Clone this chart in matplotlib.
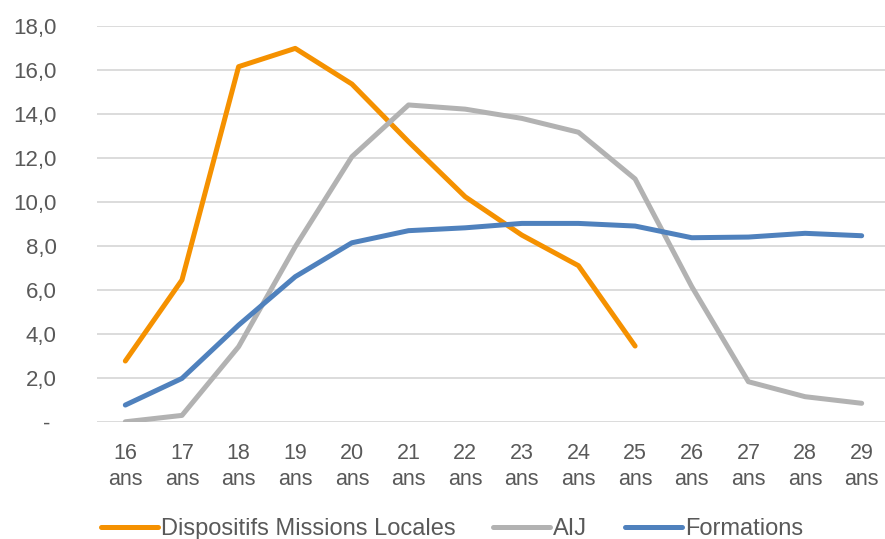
import matplotlib
matplotlib.use("Agg")
import matplotlib.pyplot as plt
from matplotlib.ticker import FuncFormatter, MultipleLocator

ages = ["16", "17", "18", "19", "20", "21", "22", "23", "24", "25", "26", "27", "28", "29"]
missions_locales = [2.77, 6.45, 16.14, 16.97, 15.35, 12.73, 10.23, 8.49, 7.1, 3.45]
aij = [0.01, 0.3, 3.42, 7.96, 12.05, 14.4, 14.21, 13.79, 13.16, 11.04, 6.15, 1.83, 1.15, 0.85]
formations = [0.77, 1.98, 4.4, 6.6, 8.14, 8.69, 8.82, 9.02, 9.02, 8.9, 8.37, 8.4, 8.57, 8.46]

labels = [a + "\nans" for a in ages]
txt = "#595959"

plt.rcParams["font.family"] = ["Liberation Sans", "DejaVu Sans"]

fig = plt.figure(figsize=(8.85, 5.39), dpi=100)
ax = fig.add_axes([97 / 885, 1 - 422 / 539, 793 / 885, (422 - 25.7) / 539])

x = list(range(len(ages)))
ax.plot(x[:len(missions_locales)], missions_locales, color="#F59100", lw=3.6,
        solid_capstyle="round", solid_joinstyle="round", label="Dispositifs Missions Locales")
ax.plot(x, aij, color="#B2B2B2", lw=3.6, solid_capstyle="round",
        solid_joinstyle="round", label="AIJ")
ax.plot(x, formations, color="#4F81BD", lw=3.6, solid_capstyle="round",
        solid_joinstyle="round", label="Formations")

ax.set_xlim(-0.5, len(ages) - 0.5)
ax.set_ylim(0, 18)
ax.yaxis.set_major_locator(MultipleLocator(2))
ax.yaxis.set_major_formatter(FuncFormatter(
    lambda v, p: "- " if abs(v) < 1e-9 else f"{v:.1f}".replace(".", ",")))
ax.grid(axis="y", color="#D9D9D9", lw=1.3)
ax.set_axisbelow(True)
for s in ax.spines.values():
    s.set_visible(False)

ax.set_xticks(x)
ax.set_xticklabels(labels, linespacing=1.32)
ax.tick_params(axis="both", length=0, colors=txt)
ax.tick_params(axis="y", labelsize=16, pad=29)
ax.tick_params(axis="x", labelsize=15.5, pad=15)

fig.legend(loc="center", bbox_to_anchor=(452 / 885, 1 - 529 / 539), ncol=3,
           frameon=False, handlelength=2.41, handletextpad=0.13,
           columnspacing=1.6, labelcolor=txt, fontsize=17)

fig.savefig("out.png", dpi=100)
